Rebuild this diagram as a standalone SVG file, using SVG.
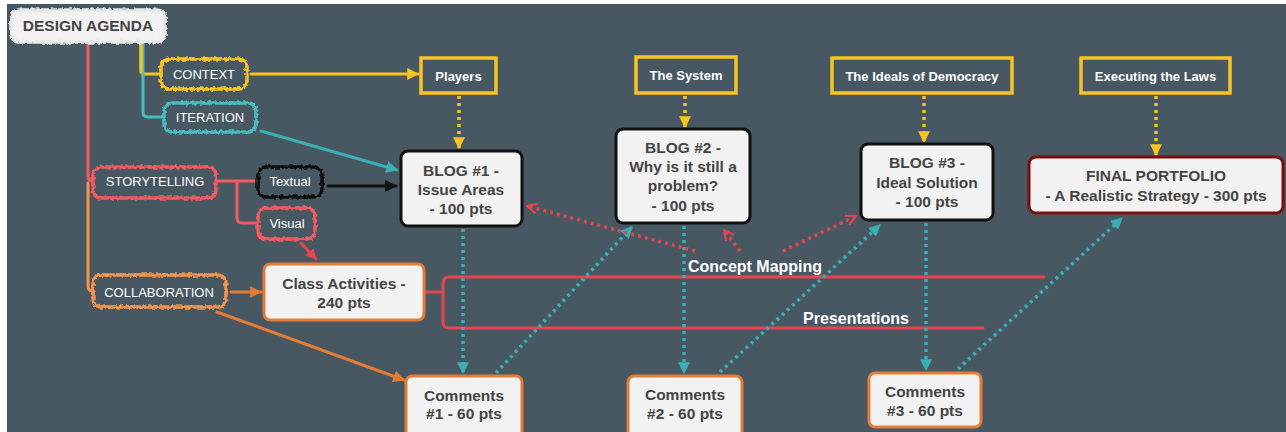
<svg xmlns="http://www.w3.org/2000/svg" width="1286" height="432" viewBox="0 0 1286 432">
<style>
.cloud{stroke-width:3.5;filter:url(#rough)}
.ctxt{font-family:"Liberation Sans",Arial,sans-serif;font-size:13px;fill:#ffffff;text-anchor:middle}
.box{fill:#f2f2f2;stroke-width:3}
.btxt{font-family:"Liberation Sans",Arial,sans-serif;font-weight:bold;font-size:15.5px;fill:#444444;text-anchor:middle}
.ybox{fill:none;stroke:#f7c325;stroke-width:3.5}
.ytxt{font-family:"Liberation Sans",Arial,sans-serif;font-weight:bold;font-size:13px;fill:#ffffff;text-anchor:middle}
.ltxt{font-family:"Liberation Sans",Arial,sans-serif;font-weight:bold;font-size:16px;fill:#ffffff;text-anchor:middle}
.ln{fill:none;stroke-width:3;stroke-linecap:round}
.dot{fill:none;stroke-width:3.5;stroke-dasharray:3 4}
</style>
<defs>
<filter id="rough" x="-10%" y="-25%" width="120%" height="150%">
<feTurbulence type="fractalNoise" baseFrequency="0.35" numOctaves="1" seed="5" result="t"/>
<feDisplacementMap in="SourceGraphic" in2="t" scale="5" xChannelSelector="R" yChannelSelector="G"/>
</filter>
<marker id="aY" viewBox="0 0 10 10" refX="9" refY="5" markerWidth="12" markerHeight="12" markerUnits="userSpaceOnUse" orient="auto"><path d="M0,0 L10,5 L0,10 z" fill="#f7c325"/></marker>
<marker id="aT" viewBox="0 0 10 10" refX="9" refY="5" markerWidth="12" markerHeight="12" markerUnits="userSpaceOnUse" orient="auto"><path d="M0,0 L10,5 L0,10 z" fill="#3ab0b5"/></marker>
<marker id="aK" viewBox="0 0 10 10" refX="9" refY="5" markerWidth="12" markerHeight="12" markerUnits="userSpaceOnUse" orient="auto"><path d="M0,0 L10,5 L0,10 z" fill="#111111"/></marker>
<marker id="aO" viewBox="0 0 10 10" refX="9" refY="5" markerWidth="12" markerHeight="12" markerUnits="userSpaceOnUse" orient="auto"><path d="M0,0 L10,5 L0,10 z" fill="#e57c35"/></marker>
<marker id="aR" viewBox="0 0 10 10" refX="9" refY="5" markerWidth="11" markerHeight="11" markerUnits="userSpaceOnUse" orient="auto"><path d="M0,0 L10,5 L0,10 z" fill="#e8444f"/></marker>
<marker id="oR" viewBox="0 0 12 12" refX="11" refY="6" markerWidth="12" markerHeight="12" markerUnits="userSpaceOnUse" orient="auto"><path d="M1,1 L11,6 L1,11" fill="none" stroke="#e8444f" stroke-width="2"/></marker>
</defs>
<rect x="0" y="0" width="1286" height="432" fill="#ffffff"/>
<rect x="7" y="4" width="1279" height="428" fill="#475863"/>

<g id="connectors">
<path class="ln" d="M88,43 V176 Q88,181 93,181" stroke="#f45a60"/>
<path class="ln" d="M88,183 V286 Q88,291 93,291" stroke="#f5954c"/>
<path class="ln" d="M141,43 V70 Q141,74 145,74 H160" stroke="#f7c325"/>
<path class="ln" d="M143,43 V112 Q143,117 148,117 H163" stroke="#48bcc1"/>
<path class="ln" d="M141,43 V72" stroke="#f7c325"/>
<path class="ln" d="M217,181 H257 M237,181 V218 Q237,223 242,223 H257" stroke="#f45a60"/>
<path class="ln" d="M251,74 H418" stroke="#f7c325" marker-end="url(#aY)"/>
<path class="ln" d="M261,131 L397,170" stroke="#3ab0b5" marker-end="url(#aT)"/>
<path class="ln" d="M328,186 H396" stroke="#111111" marker-end="url(#aK)"/>
<path class="ln" d="M301,243 L316,259" stroke="#e8444f" stroke-width="2.5" marker-end="url(#aR)"/>
<path class="ln" d="M231,292 H261" stroke="#e57c35" marker-end="url(#aO)"/>
<path class="ln" d="M217,312 L404,380" stroke="#e57c35" marker-end="url(#aO)"/>
<path class="ln" d="M425,292 H443 M1044,277 H449 Q443,277 443,283 V322 Q443,328 449,328 H983" stroke="#e8444f" stroke-width="4"/>
<path class="dot" d="M459,96 V148" stroke="#f7c325" marker-end="url(#aY)"/>
<path class="dot" d="M685,96 V127" stroke="#f7c325" marker-end="url(#aY)"/>
<path class="dot" d="M924,96 V142" stroke="#f7c325" marker-end="url(#aY)"/>
<path class="dot" d="M1156,96 V155" stroke="#f7c325" marker-end="url(#aY)"/>
<path class="dot" d="M463,229 V373" stroke="#3ab0b5" marker-end="url(#aT)"/>
<path class="dot" d="M496,373 L632,227" stroke="#3ab0b5" marker-end="url(#aT)"/>
<path class="dot" d="M684,226 V373" stroke="#3ab0b5" marker-end="url(#aT)"/>
<path class="dot" d="M720,372 L880,225" stroke="#3ab0b5" marker-end="url(#aT)"/>
<path class="dot" d="M926,223 V370" stroke="#3ab0b5" marker-end="url(#aT)"/>
<path class="dot" d="M958,369 L1122,218" stroke="#3ab0b5" marker-end="url(#aT)"/>
<path class="dot" d="M695,251 L527,206" stroke="#e8444f" stroke-width="3" marker-end="url(#oR)"/>
<path class="dot" d="M740,251 L724,230" stroke="#e8444f" stroke-width="3" marker-end="url(#oR)"/>
<path class="dot" d="M783,251 L856,216" stroke="#e8444f" stroke-width="3" marker-end="url(#oR)"/>
<text class="ltxt" x="755" y="272">Concept Mapping</text>
<text class="ltxt" x="856" y="323.5" font-size="15.5">Presentations</text>
</g>

<g id="design-agenda"><rect class="cloud" x="11" y="10" width="154" height="32" rx="8" fill="#f2f2f2" stroke="#e8e8e8"/><text x="88" y="31" font-family="Liberation Sans,Arial,sans-serif" font-weight="bold" font-size="15.5" fill="#444444" text-anchor="middle">DESIGN AGENDA</text></g>
<g id="context"><rect class="cloud" x="161" y="59" width="86" height="30" rx="8" fill="#475863" stroke="#f7c325"/><text class="ctxt" x="204" y="78.5">CONTEXT</text></g>
<g id="iteration"><rect class="cloud" x="164" y="103" width="92" height="29" rx="8" fill="#475863" stroke="#48bcc1"/><text class="ctxt" x="210" y="122">ITERATION</text></g>
<g id="storytelling"><rect class="cloud" x="93" y="167" width="123" height="31" rx="8" fill="#475863" stroke="#f45a60"/><text class="ctxt" x="155" y="186">STORYTELLING</text></g>
<g id="textual"><rect class="cloud" x="258" y="167" width="64" height="30" rx="8" fill="#475863" stroke="#111111"/><text class="ctxt" x="290" y="185.5">Textual</text></g>
<g id="visual"><rect class="cloud" x="258" y="208" width="57" height="31" rx="8" fill="#475863" stroke="#f45a60"/><text class="ctxt" x="287" y="228">Visual</text></g>
<g id="collaboration"><rect class="cloud" x="93" y="275" width="133" height="32" rx="8" fill="#475863" stroke="#f5954c"/><text class="ctxt" x="159" y="296.5" font-size="12.5">COLLABORATION</text></g>

<g id="players"><rect class="ybox" x="421" y="58" width="75" height="35"/><text class="ytxt" x="458.5" y="80.5">Players</text></g>
<g id="the-system"><rect class="ybox" x="636" y="57" width="100" height="36"/><text class="ytxt" x="686" y="80">The System</text></g>
<g id="ideals"><rect class="ybox" x="832" y="58" width="180" height="35"/><text class="ytxt" x="922" y="80.5">The Ideals of Democracy</text></g>
<g id="executing"><rect class="ybox" x="1081" y="58" width="149" height="35"/><text class="ytxt" x="1155.5" y="80.5">Executing the Laws</text></g>

<g id="blog1"><rect class="box" x="401" y="151" width="121" height="75" rx="7" stroke="#111111"/><text class="btxt" x="461" y="175.5">BLOG #1 -</text><text class="btxt" x="461" y="194.5">Issue Areas</text><text class="btxt" x="461" y="213.5">- 100 pts</text></g>
<g id="blog2"><rect class="box" x="616" y="129" width="134" height="94" rx="7" stroke="#111111"/><text class="btxt" x="683" y="152.5">BLOG #2 -</text><text class="btxt" x="683" y="172">Why is it still a</text><text class="btxt" x="683" y="191">problem?</text><text class="btxt" x="683" y="210.5">- 100 pts</text></g>
<g id="blog3"><rect class="box" x="861" y="144" width="132" height="76" rx="7" stroke="#111111"/><text class="btxt" x="927" y="168">BLOG #3 -</text><text class="btxt" x="927" y="187.5">Ideal Solution</text><text class="btxt" x="927" y="207">- 100 pts</text></g>
<g id="final"><rect class="box" x="1029" y="157" width="254" height="56" rx="7" stroke="#7b0d0d"/><text class="btxt" x="1156" y="180.5">FINAL PORTFOLIO</text><text class="btxt" x="1156" y="200.5">- A Realistic Strategy - 300 pts</text></g>

<g id="class-activities"><rect class="box" x="264" y="264" width="160" height="56" rx="6" stroke="#e57c35"/><text class="btxt" x="344" y="288.5">Class Activities -</text><text class="btxt" x="344" y="307.5">240 pts</text></g>
<g id="comments1"><rect class="box" x="406" y="376" width="116" height="62" rx="6" stroke="#e57c35"/><text class="btxt" x="464" y="400.5">Comments</text><text class="btxt" x="464" y="419">#1 - 60 pts</text></g>
<g id="comments2"><rect class="box" x="628" y="376" width="114" height="62" rx="6" stroke="#e57c35"/><text class="btxt" x="685" y="399.5">Comments</text><text class="btxt" x="685" y="418.5">#2 - 60 pts</text></g>
<g id="comments3"><rect class="box" x="869" y="373" width="112" height="54" rx="6" stroke="#e57c35"/><text class="btxt" x="925" y="396.5">Comments</text><text class="btxt" x="925" y="415.5">#3 - 60 pts</text></g>
</svg>
